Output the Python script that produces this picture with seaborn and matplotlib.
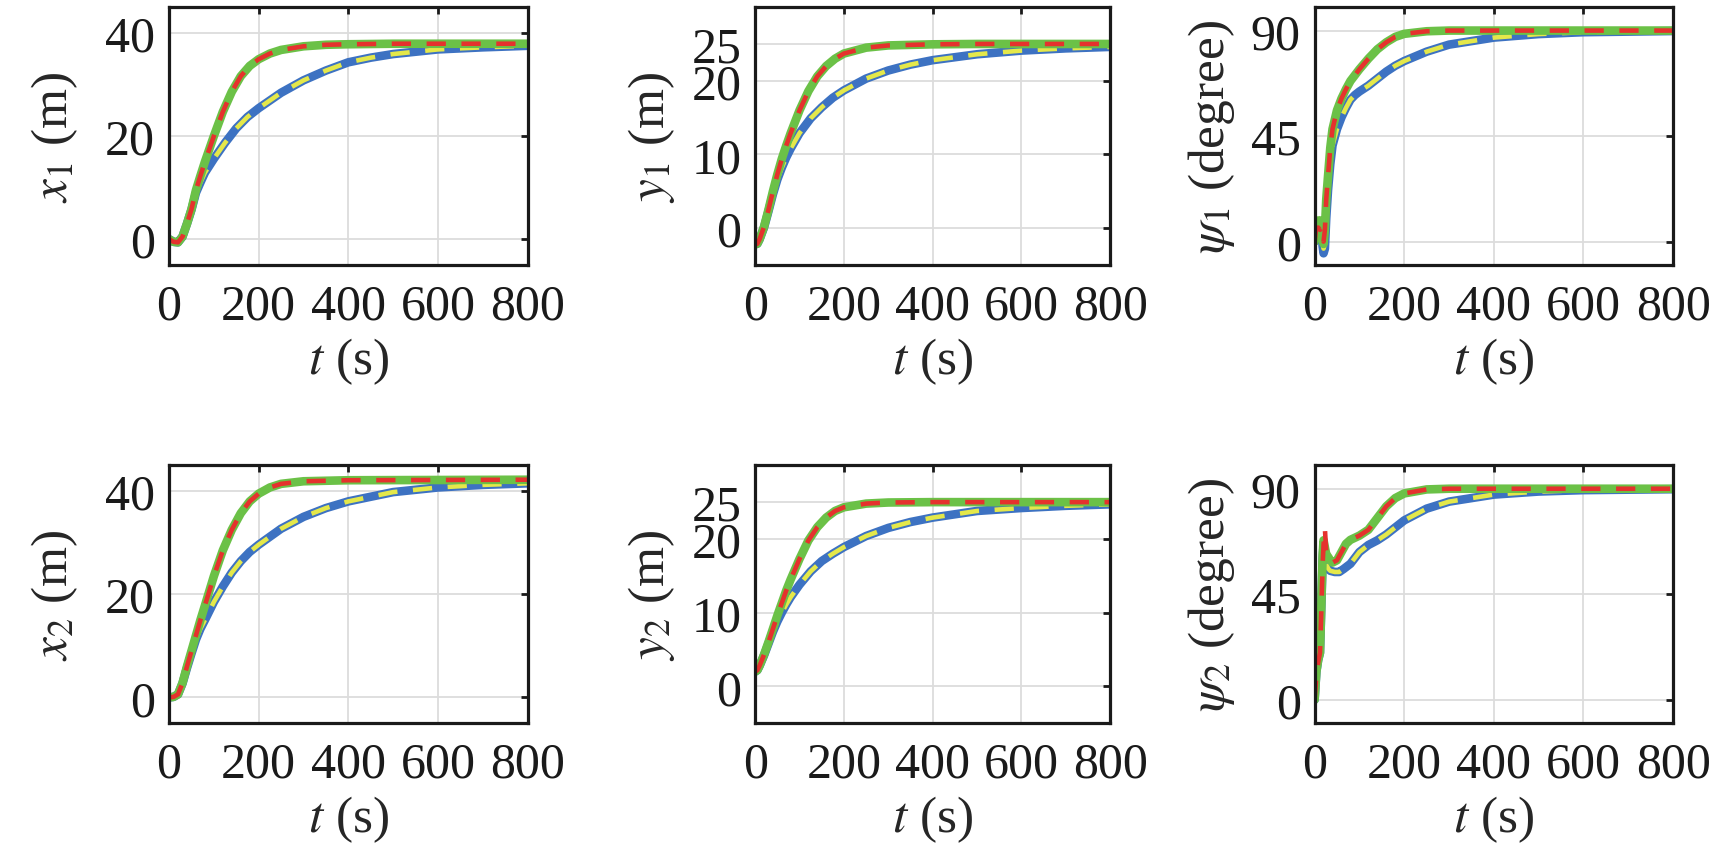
# Six state panels (x, y, psi for two vessels) over time
import numpy as np
import pandas as pd
import matplotlib
matplotlib.use("Agg")
import matplotlib.pyplot as plt
import seaborn as sns

##########################################################
# Data (t in s)

# --- x1 (m)
t_x1_fast = [0, 10, 20, 30, 40, 50, 60, 70, 80, 90, 100, 120, 140, 160, 180, 200, 225, 250, 300, 350, 400, 500, 600, 800]
x1_fast = [0, -0.5, -0.6, 0.5, 3, 5.8, 9.5, 12.3, 15, 17.5, 20, 24.7, 28.6, 31.6, 33.6, 34.9, 36, 36.7, 37.4, 37.7, 37.8, 37.9, 37.9, 37.9]
t_x1_slow = [0, 10, 20, 30, 40, 50, 60, 70, 80, 100, 125, 150, 175, 200, 250, 300, 350, 400, 450, 500, 600, 700, 800]
x1_slow = [0, -0.5, -0.6, 0.5, 3, 5.7, 9, 11, 12.9, 15.6, 18.7, 21.5, 23.7, 25.4, 28.4, 30.8, 32.7, 34.3, 35.2, 35.9, 36.8, 37.2, 37.5]

# --- y1 (m)
t_y1_fast = [0, 5, 10, 20, 30, 40, 50, 60, 70, 80, 100, 120, 140, 160, 180, 200, 250, 300, 400, 500, 800]
y1_fast = [-2.2, -2.1, -1.5, 0.2, 2.5, 5, 7.3, 9.4, 11.2, 12.9, 16, 18.6, 20.6, 22, 23, 23.7, 24.5, 24.8, 24.95, 25, 25]
t_y1_slow = [0, 5, 10, 20, 30, 40, 50, 60, 70, 80, 100, 125, 150, 175, 200, 250, 300, 350, 400, 500, 600, 700, 800]
y1_slow = [-2.2, -2.1, -1.5, 0.1, 2.3, 4.6, 6.6, 8.2, 9.6, 10.8, 12.9, 14.9, 16.4, 17.7, 18.7, 20.3, 21.4, 22.2, 22.8, 23.6, 24.1, 24.4, 24.6]

# --- psi1 (degree)
t_p1_fast = [0, 3, 8, 12, 15, 18, 20, 23, 26, 30, 35, 40, 50, 60, 70, 80, 100, 120, 140, 160, 180, 200, 250, 300, 800]
p1_green = [0, 8, 9, 7, 9, 2, -1, 5, 18, 28, 40, 48, 56, 61, 65, 68.5, 73.5, 78, 82, 85, 87.3, 88.6, 89.7, 90, 90]
p1_red = [0, 5, 6, 5, 6, 3, 0, 5, 18, 28, 40, 48, 56, 61, 65, 68.5, 73.5, 78, 82, 85, 87.3, 88.6, 89.7, 90, 90]
t_p1_slow = [0, 3, 8, 12, 15, 18, 20, 23, 26, 30, 35, 40, 50, 60, 70, 80, 90, 100, 120, 140, 160, 180, 200, 250, 300, 400, 500, 600, 800]
p1_blue = [0, 5, 7, 4, 5, -2, -5, -3, 10, 22, 33, 41, 48, 53, 57, 60.5, 62.5, 64, 66.5, 69.5, 72.5, 75, 77, 81, 84, 87, 88.5, 89.3, 89.8]
p1_yellow = [0, 4, 5, 3, 4, -1, -3, -1, 10, 22, 33, 41, 48, 53, 57, 60.5, 62.5, 64, 66.5, 69.5, 72.5, 75, 77, 81, 84, 87, 88.5, 89.3, 89.8]

# --- x2 (m)
t_x2_fast = [0, 10, 20, 30, 40, 50, 60, 70, 80, 100, 120, 140, 160, 180, 200, 225, 250, 300, 400, 800]
x2_fast = [0, 0.1, 0.6, 2.8, 6, 9, 12, 15, 17.8, 23.5, 28.5, 32.5, 35.7, 38, 39.5, 40.7, 41.4, 41.9, 42.1, 42.2]
t_x2_slow = [0, 10, 20, 30, 40, 50, 60, 70, 80, 100, 120, 140, 160, 180, 200, 250, 300, 350, 400, 500, 600, 700, 800]
x2_slow = [0, 0.1, 0.6, 2.7, 5.7, 8.5, 11.2, 13.3, 15, 18.5, 21.5, 24.2, 26.4, 28.2, 29.6, 32.7, 35, 36.7, 38, 39.8, 40.7, 41.2, 41.5]

# --- y2 (m)
t_y2_fast = [0, 5, 10, 20, 30, 40, 50, 60, 70, 80, 100, 120, 140, 160, 180, 200, 250, 300, 400, 800]
y2_fast = [2, 2.2, 2.8, 4.3, 6, 7.8, 9.6, 11.3, 13, 14.5, 17.3, 19.8, 21.6, 22.9, 23.8, 24.3, 24.8, 24.95, 25, 25]
t_y2_slow = [0, 5, 10, 20, 30, 40, 50, 60, 70, 80, 100, 125, 150, 175, 200, 250, 300, 350, 400, 500, 600, 700, 800]
y2_slow = [2, 2.2, 2.8, 4.2, 5.8, 7.4, 8.8, 10, 11.1, 12.1, 13.8, 15.6, 17, 18, 18.9, 20.4, 21.5, 22.3, 22.9, 23.8, 24.2, 24.5, 24.7]

# --- psi2 (degree)
t_p2_fast = [0, 4, 8, 12, 15, 18, 20, 23, 26, 30, 35, 40, 50, 60, 70, 80, 100, 120, 140, 160, 180, 200, 250, 300, 800]
p2_green = [0, 12, 17, 20, 40, 62, 68, 65, 62, 61, 59.5, 58.5, 59.5, 63, 66.5, 68.2, 70, 72.5, 77.5, 82.5, 86, 88, 89.7, 90, 90]
p2_red = [0, 10, 16, 20, 38, 58, 66, 73, 63, 60, 59, 58.5, 59.5, 63, 66.5, 68.2, 70, 72.5, 77.5, 82.5, 86, 88, 89.7, 90, 90]
t_p2_slow = [0, 4, 8, 12, 15, 18, 20, 23, 26, 30, 35, 45, 55, 65, 80, 100, 120, 140, 160, 180, 200, 250, 300, 400, 500, 600, 800]
p2_slow = [0, 12, 17, 20, 40, 60, 66, 63, 58, 56, 55, 54.5, 54.5, 55.8, 58, 63, 66, 68, 70.5, 73.5, 76.5, 81.5, 84.5, 87.5, 88.8, 89.4, 89.8]

# panel settings : label, ylim, yticks
ylabels = ["$x_1$ (m)", "$y_1$ (m)", r"$\psi_1$ (degree)",
           "$x_2$ (m)", "$y_2$ (m)", r"$\psi_2$ (degree)"]
ylims = [(-5, 45), (-5, 30), (-10, 100), (-5, 45), (-5, 30), (-10, 100)]
yticks = [[0, 20, 40], [0, 10, 20, 25], [0, 45, 90],
          [0, 20, 40], [0, 10, 20, 25], [0, 45, 90]]
xticks = [0, 200, 400, 600, 800]

# (t, blue, yellow, t, green, red) per panel
panels = [
    (t_x1_slow, x1_slow, x1_slow, t_x1_fast, x1_fast, x1_fast),
    (t_y1_slow, y1_slow, y1_slow, t_y1_fast, y1_fast, y1_fast),
    (t_p1_slow, p1_blue, p1_yellow, t_p1_fast, p1_green, p1_red),
    (t_x2_slow, x2_slow, x2_slow, t_x2_fast, x2_fast, x2_fast),
    (t_y2_slow, y2_slow, y2_slow, t_y2_fast, y2_fast, y2_fast),
    (t_p2_slow, p2_slow, p2_slow, t_p2_fast, p2_green, p2_red),
]

##########################################################

sns.set_style("white")
plt.rcParams['font.family'] = ['Liberation Serif', 'DejaVu Serif']
plt.rcParams['mathtext.fontset'] = 'stix'

BLUE = "#3D72C2"
YELLOW = "#E4E84A"
GREEN = "#6BC147"
RED = "#E5322D"
DASH = (0, (4.2, 3.4))

fig = plt.figure(figsize=(17.32, 8.54), dpi=100)
lefts = [0.0976, 0.436, 0.759]
widths = [0.207, 0.205, 0.207]
bottoms = [0.6885, 0.152]
ypads = [18, 10, 10]

for i, (tb, vb, vy, tg, vg, vr) in enumerate(panels):
    r, c = divmod(i, 3)
    ax = fig.add_axes([lefts[c], bottoms[r], widths[c], 0.302])

    sns.lineplot(x=tb, y=vb, ax=ax, color=BLUE, lw=6.2, solid_capstyle='round')
    sns.lineplot(x=tb, y=vy, ax=ax, color=YELLOW, lw=3.3, linestyle=DASH)
    sns.lineplot(x=tg, y=vg, ax=ax, color=GREEN, lw=6.2, solid_capstyle='round')
    sns.lineplot(x=tg, y=vr, ax=ax, color=RED, lw=3.3, linestyle=DASH)

    ax.set_xlim(0, 800)
    ax.set_ylim(*ylims[i])
    ax.set_xticks(xticks)
    ax.set_yticks(yticks[i])
    ax.grid(True, color='#dcdcdc', lw=1.3)
    ax.set_axisbelow(True)
    for s in ax.spines.values():
        s.set_linewidth(2.3)
        s.set_color('#1a1a1a')
    ax.tick_params(direction='in', top=True, right=True, length=5, width=2,
                   labelsize=36, colors='#1a1a1a')
    ax.tick_params(axis='x', pad=13)
    ax.tick_params(axis='y', pad=10)
    ax.set_xlabel("$t$ (s)", fontsize=37, labelpad=4)
    ax.set_ylabel(ylabels[i], fontsize=37, labelpad=ypads[c])

fig.savefig("out.png", dpi=100)
